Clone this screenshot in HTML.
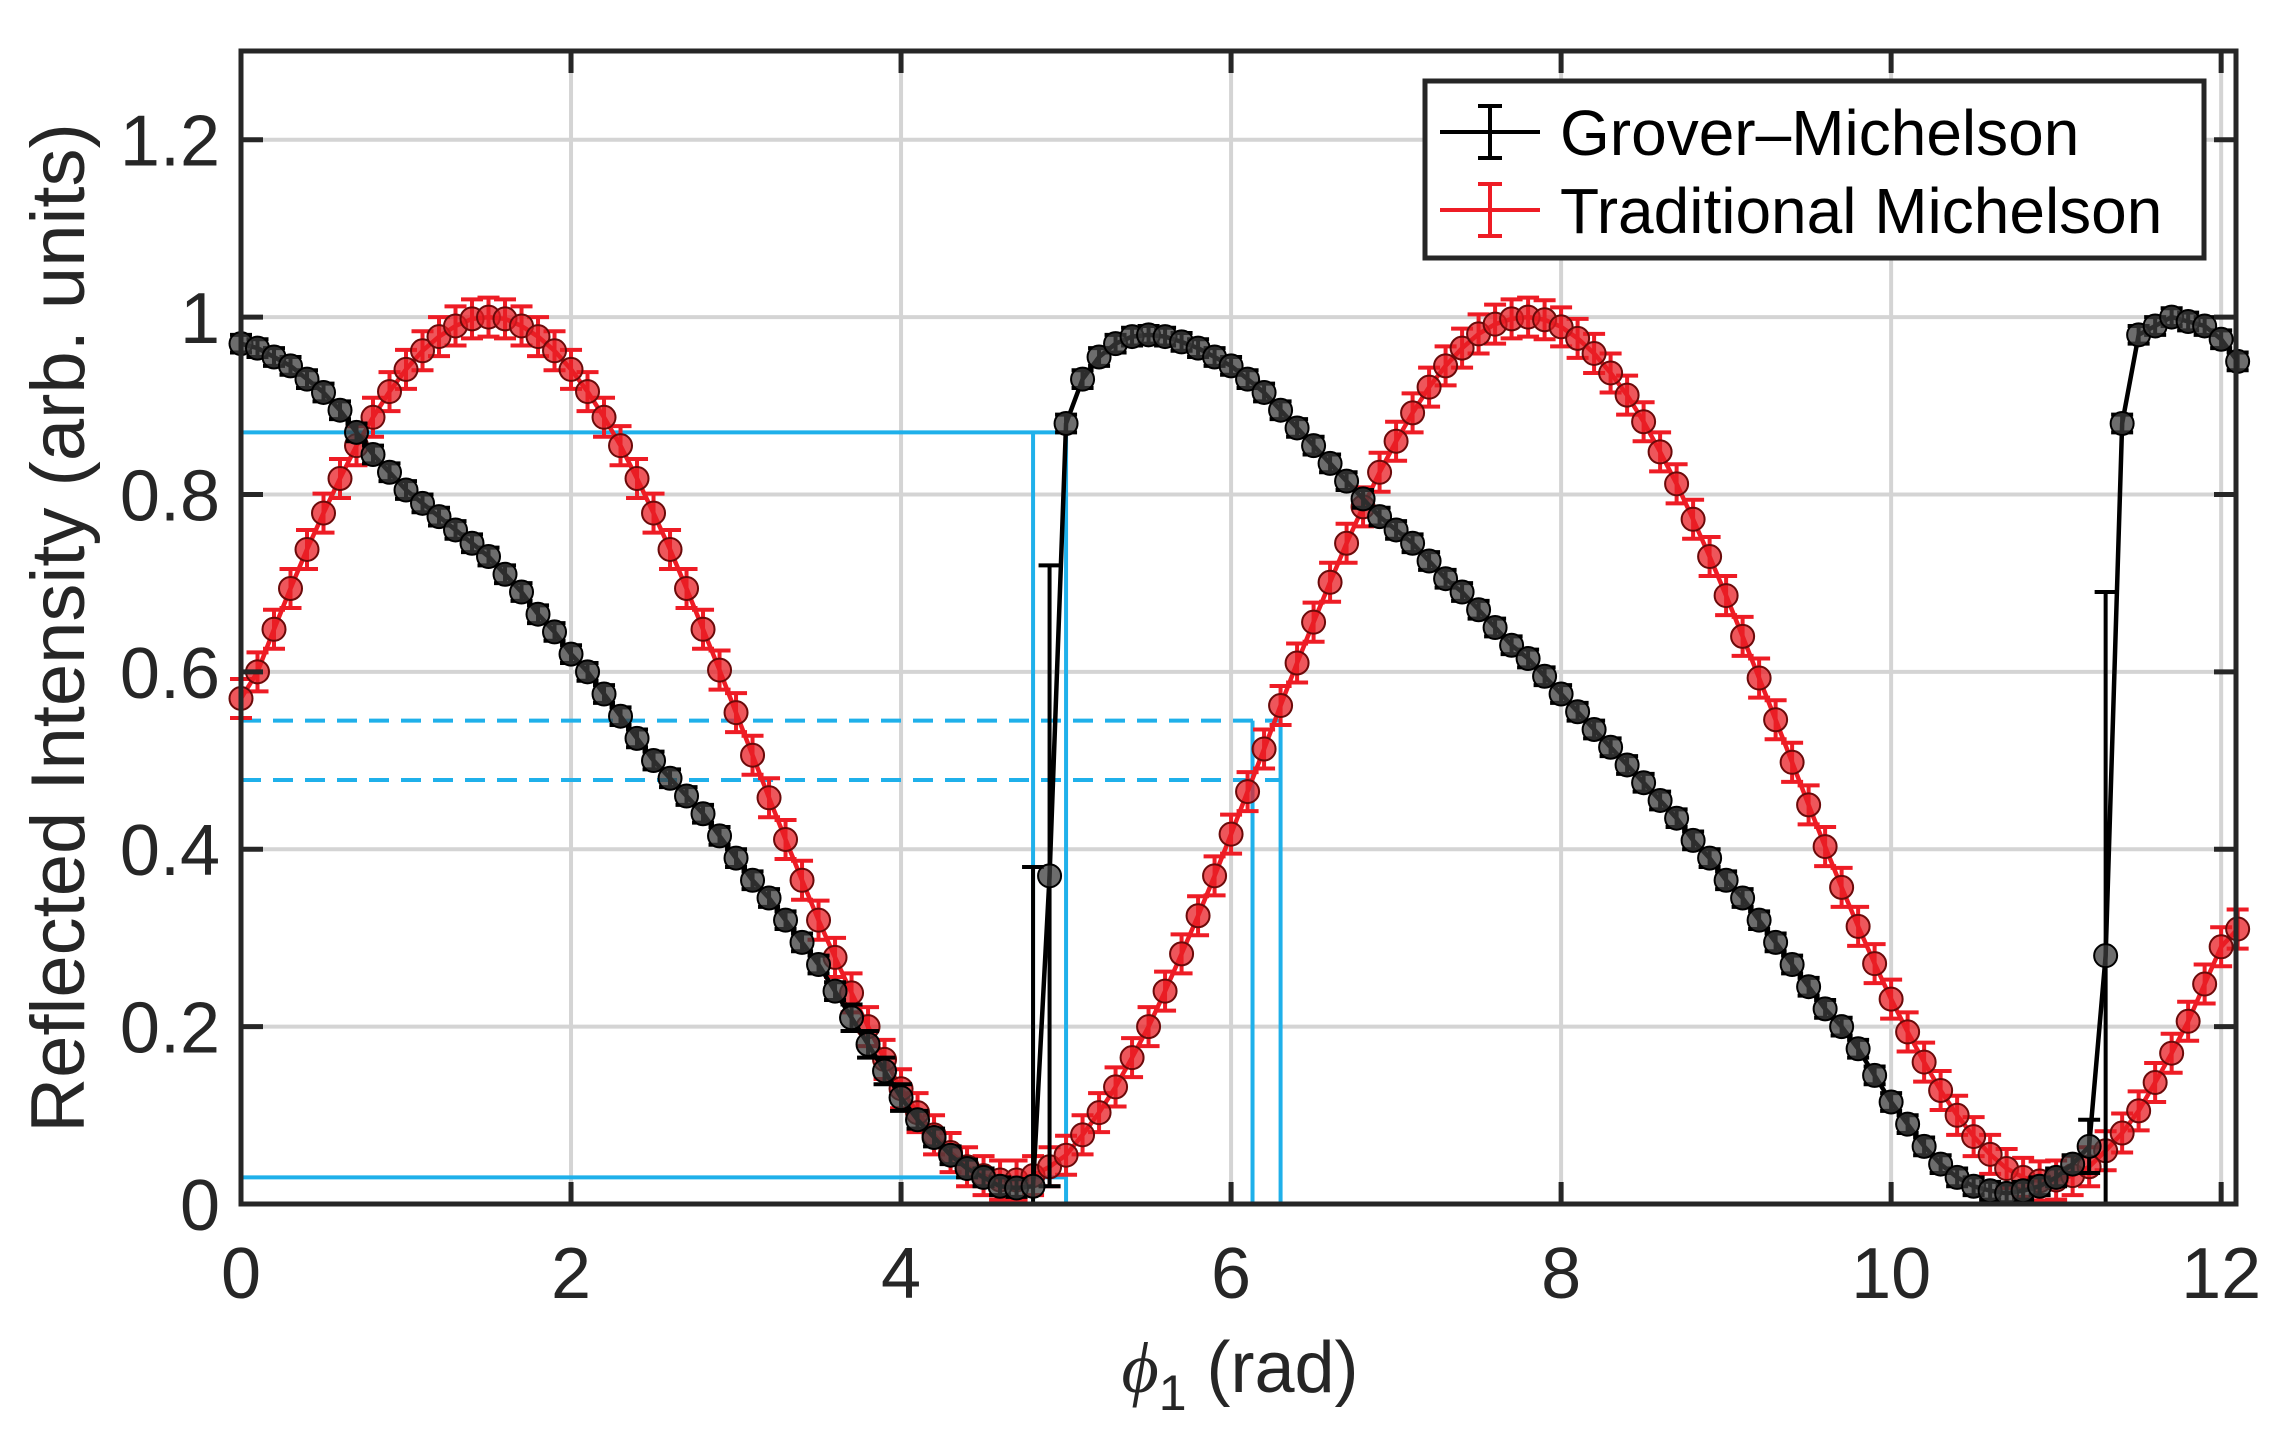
<!DOCTYPE html>
<html><head><meta charset="utf-8"><style>
html,body{margin:0;padding:0;background:#fff;}
svg{display:block;font-family:"Liberation Sans",Arial,sans-serif;}
</style></head><body>
<svg id="chart" width="2282" height="1443" viewBox="0 0 2282 1443" xmlns="http://www.w3.org/2000/svg">
<g id="grid"></g>
<g id="guides"></g>
<g id="series"></g>
<g id="axes"></g>
<text transform="translate(84,628) rotate(-90)" text-anchor="middle" font-size="76" fill="#262626">Reflected Intensity (arb. units)</text>
<text x="1240" y="1392" text-anchor="middle" font-size="72" fill="#262626"><tspan font-style="italic" font-family="Liberation Serif,serif">ϕ</tspan><tspan font-size="50" dy="18">1</tspan><tspan dy="-18"> (rad)</tspan></text>
<g id="legend">
<rect x="1425" y="81" width="779" height="177" fill="#fff" stroke="#262626" stroke-width="5"/>
<g>
<line x1="1440" y1="132" x2="1540" y2="132" stroke="#000" stroke-width="4"/>
<line x1="1490" y1="106" x2="1490" y2="158" stroke="#000" stroke-width="4"/>
<line x1="1478" y1="106" x2="1502" y2="106" stroke="#000" stroke-width="4"/>
<line x1="1478" y1="158" x2="1502" y2="158" stroke="#000" stroke-width="4"/>
<text x="1560" y="155" font-size="64" fill="#000">Grover–Michelson</text>
</g>
<g>
<line x1="1440" y1="210" x2="1540" y2="210" stroke="#ee1c25" stroke-width="4"/>
<line x1="1490" y1="184" x2="1490" y2="236" stroke="#ee1c25" stroke-width="4"/>
<line x1="1478" y1="184" x2="1502" y2="184" stroke="#ee1c25" stroke-width="4"/>
<line x1="1478" y1="236" x2="1502" y2="236" stroke="#ee1c25" stroke-width="4"/>
<text x="1560" y="233" font-size="64" fill="#000">Traditional Michelson</text>
</g>
</g>
</svg>
<script>
const xVals=[0,0.1,0.2,0.3,0.4,0.5,0.6,0.7,0.8,0.9,1.0,1.1,1.2,1.3,1.4,1.5,1.6,1.7,1.8,1.9,2.0,2.1,2.2,2.3,2.4,2.5,2.6,2.7,2.8,2.9,3.0,3.1,3.2,3.3,3.4,3.5,3.6,3.7,3.8,3.9,4.0,4.1,4.2,4.3,4.4,4.5,4.6,4.7,4.8,4.9,5.0,5.1,5.2,5.3,5.4,5.5,5.6,5.7,5.8,5.9,6.0,6.1,6.2,6.3,6.4,6.5,6.6,6.7,6.8,6.9,7.0,7.1,7.2,7.3,7.4,7.5,7.6,7.7,7.8,7.9,8.0,8.1,8.2,8.3,8.4,8.5,8.6,8.7,8.8,8.9,9.0,9.1,9.2,9.3,9.4,9.5,9.6,9.7,9.8,9.9,10.0,10.1,10.2,10.3,10.4,10.5,10.6,10.7,10.8,10.9,11.0,11.1,11.2,11.3,11.4,11.5,11.6,11.7,11.8,11.9,12.0,12.1];
const groverVals=[.97,.965,.955,.945,.93,.915,.895,.87,.845,.825,.805,.79,.775,.76,.745,.73,.71,.69,.665,.645,.62,.60,.575,.55,.525,.50,.48,.46,.44,.415,.39,.365,.345,.32,.295,.27,.24,.21,.18,.15,.12,.095,.075,.055,.04,.03,.02,.018,.02,.37,.88,.93,.955,.97,.978,.98,.978,.972,.965,.955,.945,.93,.915,.895,.875,.855,.835,.815,.795,.775,.76,.745,.725,.705,.69,.67,.65,.63,.615,.595,.575,.555,.535,.515,.495,.475,.455,.435,.41,.39,.365,.345,.32,.295,.27,.245,.22,.2,.175,.145,.115,.09,.065,.045,.03,.02,.015,.012,.015,.02,.03,.045,.065,.28,.88,.98,.99,1.0,.995,.99,.975,.95];
const groverErr=[.01,.01,.01,.01,.01,.01,.01,.01,.01,.01,.01,.01,.01,.01,.01,.01,.01,.01,.01,.01,.01,.01,.01,.01,.01,.01,.01,.01,.01,.01,.01,.01,.01,.01,.01,.01,.01,.015,.015,.015,.015,.01,.01,.01,.01,.01,.01,.01,.36,.35,.01,.01,.01,.01,.01,.01,.01,.01,.01,.01,.01,.01,.01,.01,.01,.01,.01,.01,.01,.01,.01,.01,.01,.01,.01,.01,.01,.01,.01,.01,.01,.01,.01,.01,.01,.01,.01,.01,.01,.01,.01,.01,.01,.01,.01,.01,.01,.01,.01,.01,.01,.01,.01,.01,.01,.01,.01,.01,.01,.01,.01,.01,.03,.41,.01,.01,.01,.01,.01,.01,.01,.01];
const tradVals=[.57,.60,.648,.694,.738,.779,.818,.855,.887,.916,.941,.962,.978,.99,.998,1.0,.998,.99,.978,.962,.941,.916,.887,.855,.818,.779,.738,.694,.648,.602,.554,.506,.458,.411,.365,.32,.278,.238,.2,.163,.13,.103,.078,.058,.042,.032,.027,.027,.032,.042,.055,.078,.103,.132,.165,.2,.24,.282,.325,.37,.417,.465,.513,.562,.61,.656,.701,.745,.786,.825,.86,.892,.921,.945,.965,.981,.992,.998,1.0,.997,.989,.976,.959,.937,.912,.882,.848,.812,.772,.73,.686,.64,.593,.546,.498,.45,.403,.357,.313,.271,.231,.194,.16,.128,.1,.076,.056,.04,.03,.026,.027,.032,.042,.06,.08,.105,.137,.17,.206,.248,.29,.31];
const tradErr=.022;
const xTicks=[0,2,4,6,8,10,12];
const yTicks=[0,0.2,0.4,0.6,0.8,1.0,1.2];
const yTickLabels=["0","0.2","0.4","0.6","0.8","1","1.2"];
const X0=241,X1=2236,Y0=1204,Y1=51,XMAX=12.09,YMAX=1.3;
const sx=v=>X0+(X1-X0)*v/XMAX;
const sy=v=>Y0-(Y0-Y1)*v/YMAX;
const NS="http://www.w3.org/2000/svg";
function mk(parent,tag,attrs){const e=document.createElementNS(NS,tag);for(const k in attrs)e.setAttribute(k,attrs[k]);parent.appendChild(e);return e;}
const grid=document.getElementById('grid'),axes=document.getElementById('axes'),series=document.getElementById('series'),guides=document.getElementById('guides');
xTicks.forEach(t=>{
 const g=mk(grid,'line',{x1:sx(t),x2:sx(t),y1:Y1,y2:Y0,stroke:'#d4d4d4','stroke-width':4});
 
 
 const tk=mk(axes,'line',{x1:sx(t),x2:sx(t),y1:Y0,y2:Y0-22,stroke:'#262626','stroke-width':5});
 
 
 const tk2=mk(axes,'line',{x1:sx(t),x2:sx(t),y1:Y1,y2:Y1+22,stroke:'#262626','stroke-width':5});
 
 
 const tx=mk(axes,'text',{x:sx(t),y:1298,'text-anchor':'middle','font-size':72,fill:'#262626'});
 tx.textContent=String(t);
 
 
});
yTicks.forEach((t,i)=>{
 const g=mk(grid,'line',{x1:X0,x2:X1,y1:sy(t),y2:sy(t),stroke:'#d4d4d4','stroke-width':4});
 
 
 const tk=mk(axes,'line',{x1:X0,x2:X0+22,y1:sy(t),y2:sy(t),stroke:'#262626','stroke-width':5});
 
 
 const tk2=mk(axes,'line',{x1:X1,x2:X1-22,y1:sy(t),y2:sy(t),stroke:'#262626','stroke-width':5});
 
 
 const tx=mk(axes,'text',{x:220,y:sy(t)+26,'text-anchor':'end','font-size':72,fill:'#262626'});
 tx.textContent=yTickLabels[i];
 
 
});
const frame=mk(axes,'rect',{x:X0,y:Y1,width:X1-X0,height:Y0-Y1,fill:'none',stroke:'#262626','stroke-width':5});


const guideSolidH=[0.87,0.03], guideSolidV=[4.8,5.0], guideSolidTop=0.87, guideSolidEnd=5.0;
const guideDashH=[0.545,0.478], guideDashV=[6.13,6.3], guideDashTop=0.545, guideDashEnd=6.3;
const blue='#1fb0ea';
guideSolidH.forEach(v=>{const l=mk(guides,'line',{x1:X0,x2:sx(guideSolidEnd),y1:sy(v),y2:sy(v),stroke:blue,'stroke-width':4});
 
 });
guideSolidV.forEach(v=>{const l=mk(guides,'line',{x1:sx(v),x2:sx(v),y1:Y0,y2:sy(guideSolidTop),stroke:blue,'stroke-width':4});
 
 });
guideDashH.forEach(v=>{const l=mk(guides,'line',{x1:X0,x2:sx(guideDashEnd),y1:sy(v),y2:sy(v),stroke:blue,'stroke-width':4,'stroke-dasharray':'20 12'});
 
 });
guideDashV.forEach(v=>{const l=mk(guides,'line',{x1:sx(v),x2:sx(v),y1:Y0,y2:sy(guideDashTop),stroke:blue,'stroke-width':4});
 
 });
function drawSeries(vals,errs,color,fill,stroke,name){
 const g=mk(series,'g',{});
 
 
 const pts=xVals.map((x,i)=>sx(x)+','+sy(vals[i])).join(' ');
 const pl=mk(g,'polyline',{points:pts,fill:'none',stroke:color,'stroke-width':4.5});
 
 
 xVals.forEach((x,i)=>{
  const e=Array.isArray(errs)?errs[i]:errs;
  const cx=sx(x),a=sy(vals[i]+e),b=sy(Math.max(0,vals[i]-e));
  const eb=mk(g,'path',{d:`M${cx},${a}V${b}M${cx-11},${a}H${cx+11}M${cx-11},${b}H${cx+11}`,stroke:color,'stroke-width':4,fill:'none'});
  
  
 });
 xVals.forEach((x,i)=>{
  const c=mk(g,'circle',{cx:sx(x),cy:sy(vals[i]),r:11.5,fill:fill,stroke:stroke,'stroke-width':2});
  
  
 });
}
drawSeries(tradVals,tradErr,'#ee1c25','rgba(232,30,36,0.75)','#6b0a0a','traditional');
drawSeries(groverVals,groverErr,'#000','rgba(60,60,60,0.75)','#000','grover');
</script>
</body></html>
